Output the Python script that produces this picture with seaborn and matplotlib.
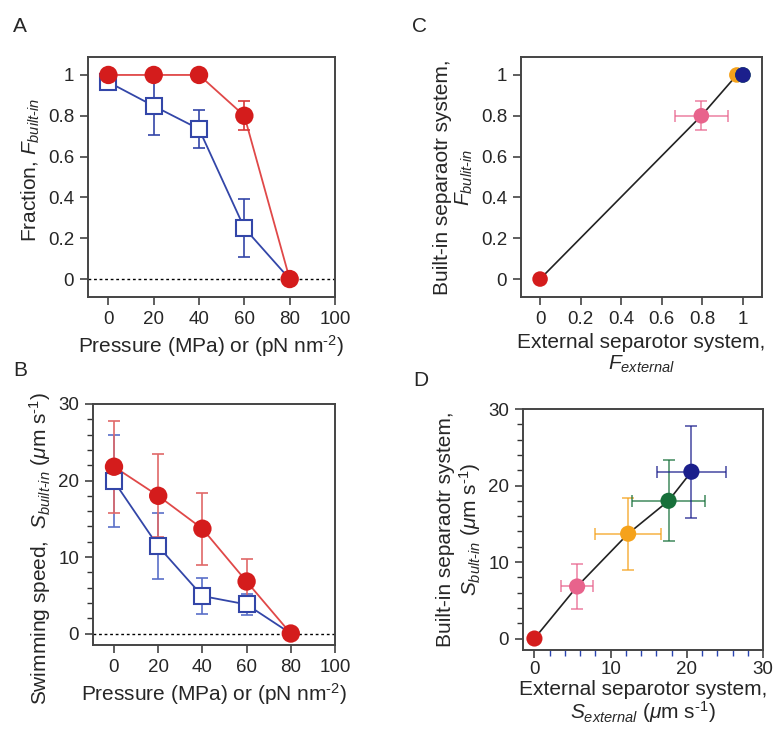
import numpy as np
import pandas as pd
import seaborn as sns
import matplotlib
matplotlib.use("Agg")
import matplotlib.pyplot as plt
from matplotlib.ticker import MultipleLocator

# ---------------- data ----------------
pressure = [0, 20, 40, 60, 80]
frac_red = [1.0, 1.0, 1.0, 0.80, 0.0]
frac_red_err = [0, 0, 0, 0.072, 0]
frac_blue = [0.965, 0.848, 0.735, 0.25, 0.0]
frac_blue_err = [0.02, 0.14, 0.095, 0.14, 0]

speed_red = [21.8, 18.0, 13.7, 6.8, 0.0]
speed_red_err = [6.0, 5.4, 4.7, 3.0, 0]
speed_blue = [19.9, 11.4, 4.9, 3.8, 0.0]
speed_blue_err = [6.0, 4.3, 2.3, 1.4, 0]

# C / D points, ordered 80, 60, 40, 20, 0 MPa
pt_colors = ["#d41c1c", "#e8638c", "#f5a21b", "#17703a", "#1b1f8c"]
F_ext = [0.0, 0.795, 0.97, 1.0, 1.0]
F_ext_err = [0, 0.13, 0.02, 0, 0]
F_bi = [0.0, 0.80, 1.0, 1.0, 1.0]
F_bi_err = [0, 0.072, 0, 0, 0]

S_ext = [0.0, 5.6, 12.3, 17.6, 20.6]
S_ext_err = [0, 2.15, 4.3, 4.75, 4.5]
S_bi = [0.0, 6.8, 13.7, 18.0, 21.8]
S_bi_err = [0, 2.9, 4.7, 5.3, 6.0]

RED = "#d41c1c"
BLUE = "#3346a8"

sns.set_style("ticks")
plt.rcParams["font.family"] = ["Liberation Sans", "DejaVu Sans"]
plt.rcParams["mathtext.fontset"] = "custom"
plt.rcParams["mathtext.rm"] = "Liberation Sans"
plt.rcParams["mathtext.it"] = "Liberation Sans:italic"
plt.rcParams["mathtext.bf"] = "Liberation Sans:bold"

W, H = 775, 729
fig = plt.figure(figsize=(W / 100, H / 100), dpi=100)

def ax_px(l, t, r, b):
    return fig.add_axes([l / W, 1 - b / H, (r - l) / W, (b - t) / H])

axA = ax_px(88, 57, 335, 297)
axB = ax_px(93, 404, 335, 645)
axC = ax_px(521, 57, 762, 297)
axD = ax_px(523, 409, 763, 650)

TFS = 13.5
LFS = 15
HY = r"\text{-}"
UNIT = r"($\mu$m s$^{" + HY + "1}$)"
PLAB = r"Pressure (MPa) or (pN nm$^{" + HY + "2}$)"

def style(ax):
    for s in ax.spines.values():
        s.set_color("#444444")
        s.set_linewidth(1.4)
    ax.tick_params(direction="out", length=6, width=1.1, labelsize=TFS, color="#333333",
                   pad=4)
    ax.tick_params(which="minor", direction="out", length=4, width=1.0, color="#333333")

CAP = 4.5
MS_SQ = 12
S_BIG = 175
SQ_EVERY = [0, 1, 2, 3]   # square at 80 MPa is hidden under the red circle

# ---------- Panel A ----------
dfA = pd.DataFrame({"p": pressure, "red": frac_red, "blue": frac_blue})
axA.axhline(0, color="black", ls=(0, (2, 2)), lw=1.0, zorder=1)
sns.lineplot(data=dfA, x="p", y="blue", ax=axA, color=BLUE, lw=1.3, zorder=2)
sns.lineplot(data=dfA, x="p", y="red", ax=axA, color="#e04848", lw=1.3, zorder=2)
axA.errorbar(pressure, frac_blue, yerr=frac_blue_err, fmt="none", ecolor=BLUE,
             elinewidth=1.2, capsize=CAP, capthick=1.2, zorder=3)
axA.errorbar(pressure, frac_red, yerr=frac_red_err, fmt="none", ecolor="#d83838",
             elinewidth=1.2, capsize=CAP, capthick=1.2, zorder=3)
axA.plot(pressure, frac_blue, ls="none", marker="s", ms=MS_SQ, mfc="white",
         mec=BLUE, mew=1.5, markevery=SQ_EVERY, zorder=4)
sns.scatterplot(data=dfA, x="p", y="red", ax=axA, color=RED, s=S_BIG,
                edgecolor="none", zorder=5)
axA.set_xlim(-9, 100)
axA.set_ylim(-0.088, 1.088)
axA.xaxis.set_major_locator(MultipleLocator(20))
axA.set_yticks([0, 0.2, 0.4, 0.6, 0.8, 1.0])
axA.set_yticklabels(["0", "0.2", "0.4", "0.6", "0.8", "1"])
axA.set_xlabel(PLAB, fontsize=LFS)
axA.set_ylabel(r"Fraction, $F_{built" + HY + "in}$", fontsize=LFS)
axA.yaxis.label.set_y(0.53)
style(axA)

# ---------- Panel B ----------
dfB = pd.DataFrame({"p": pressure, "red": speed_red, "blue": speed_blue})
axB.axhline(0, color="black", ls=(0, (2, 2)), lw=1.0, zorder=1)
sns.lineplot(data=dfB, x="p", y="blue", ax=axB, color=BLUE, lw=1.3, zorder=2)
sns.lineplot(data=dfB, x="p", y="red", ax=axB, color="#e04848", lw=1.3, zorder=2)
axB.errorbar(pressure, speed_blue, yerr=speed_blue_err, fmt="none", ecolor="#5a70c8",
             elinewidth=1.2, capsize=CAP, capthick=1.2, zorder=3)
axB.errorbar(pressure, speed_red, yerr=speed_red_err, fmt="none", ecolor="#e06868",
             elinewidth=1.2, capsize=CAP, capthick=1.2, zorder=3)
axB.plot(pressure, speed_blue, ls="none", marker="s", ms=MS_SQ, mfc="white",
         mec=BLUE, mew=1.5, markevery=SQ_EVERY, zorder=4)
sns.scatterplot(data=dfB, x="p", y="red", ax=axB, color=RED, s=S_BIG,
                edgecolor="none", zorder=5)
axB.set_xlim(-9.5, 100)
axB.set_ylim(-1.5, 30)
axB.xaxis.set_major_locator(MultipleLocator(20))
axB.yaxis.set_major_locator(MultipleLocator(10))
axB.yaxis.set_minor_locator(MultipleLocator(2))
axB.set_xlabel(PLAB, fontsize=LFS)
axB.set_ylabel(r"Swimming speed,  $S_{built" + HY + "in}$ " + UNIT, fontsize=LFS)
axB.yaxis.label.set_y(0.40)
style(axB)

# ---------- Panel C ----------
dfC = pd.DataFrame({"x": F_ext, "y": F_bi})
sns.lineplot(data=dfC, x="x", y="y", ax=axC, color="#222222", lw=1.2, sort=False, zorder=2)
for i in range(len(F_ext)):
    axC.errorbar(F_ext[i], F_bi[i], xerr=F_ext_err[i], yerr=F_bi_err[i], fmt="none",
                 ecolor=pt_colors[i], alpha=0.75, elinewidth=1.2, capsize=CAP,
                 capthick=1.2, zorder=3)
sns.scatterplot(data=dfC, x="x", y="y", ax=axC, hue=pt_colors, palette=pt_colors,
                s=125, edgecolor="none", legend=False, zorder=5)
axC.set_xlim(-0.094, 1.094)
axC.set_ylim(-0.088, 1.088)
ticksC = [0, 0.2, 0.4, 0.6, 0.8, 1.0]
labsC = ["0", "0.2", "0.4", "0.6", "0.8", "1"]
axC.set_xticks(ticksC)
axC.set_xticklabels(labsC)
axC.set_yticks(ticksC)
axC.set_yticklabels(labsC)
axC.set_xlabel("External separotor system,\n$F_{external}$", fontsize=LFS, linespacing=1.1)
axC.set_ylabel("Built-in separaotr system,\n" + r"$F_{bulit" + HY + "in}$", fontsize=LFS,
               linespacing=1.1)
style(axC)

# ---------- Panel D ----------
dfD = pd.DataFrame({"x": S_ext, "y": S_bi})
sns.lineplot(data=dfD, x="x", y="y", ax=axD, color="#222222", lw=1.2, sort=False, zorder=2)
for i in range(len(S_ext)):
    axD.errorbar(S_ext[i], S_bi[i], xerr=S_ext_err[i], yerr=S_bi_err[i], fmt="none",
                 ecolor=pt_colors[i], alpha=0.75, elinewidth=1.2, capsize=CAP,
                 capthick=1.2, zorder=3)
sns.scatterplot(data=dfD, x="x", y="y", ax=axD, hue=pt_colors, palette=pt_colors,
                s=135, edgecolor="none", legend=False, zorder=5)
axD.set_xlim(-1.5, 30)
axD.set_ylim(-1.5, 30)
axD.xaxis.set_major_locator(MultipleLocator(10))
axD.yaxis.set_major_locator(MultipleLocator(10))
axD.xaxis.set_minor_locator(MultipleLocator(2))
axD.yaxis.set_minor_locator(MultipleLocator(2))
axD.set_xlabel("External separotor system,\n" + r"$S_{external}$ " + UNIT,
               fontsize=LFS, linespacing=1.0, labelpad=1.5)
axD.set_ylabel("Built-in separaotr system,\n" + r"$S_{bult" + HY + "in}$ " + UNIT,
               fontsize=LFS, linespacing=1.1)
style(axD)
axD.tick_params(axis="x", which="minor", color="#2a44b0")
axD.tick_params(axis="x", which="major", pad=2)

# panel letters
fig.text(13 / W, 1 - 27 / H, "A", fontsize=15, va="center")
fig.text(412 / W, 1 - 27 / H, "C", fontsize=15, va="center")
fig.text(13 / W, 1 - 370 / H, "B", fontsize=15, va="center")
fig.text(413 / W, 1 - 380 / H, "D", fontsize=15, va="center")

fig.savefig("out.png", dpi=100)
